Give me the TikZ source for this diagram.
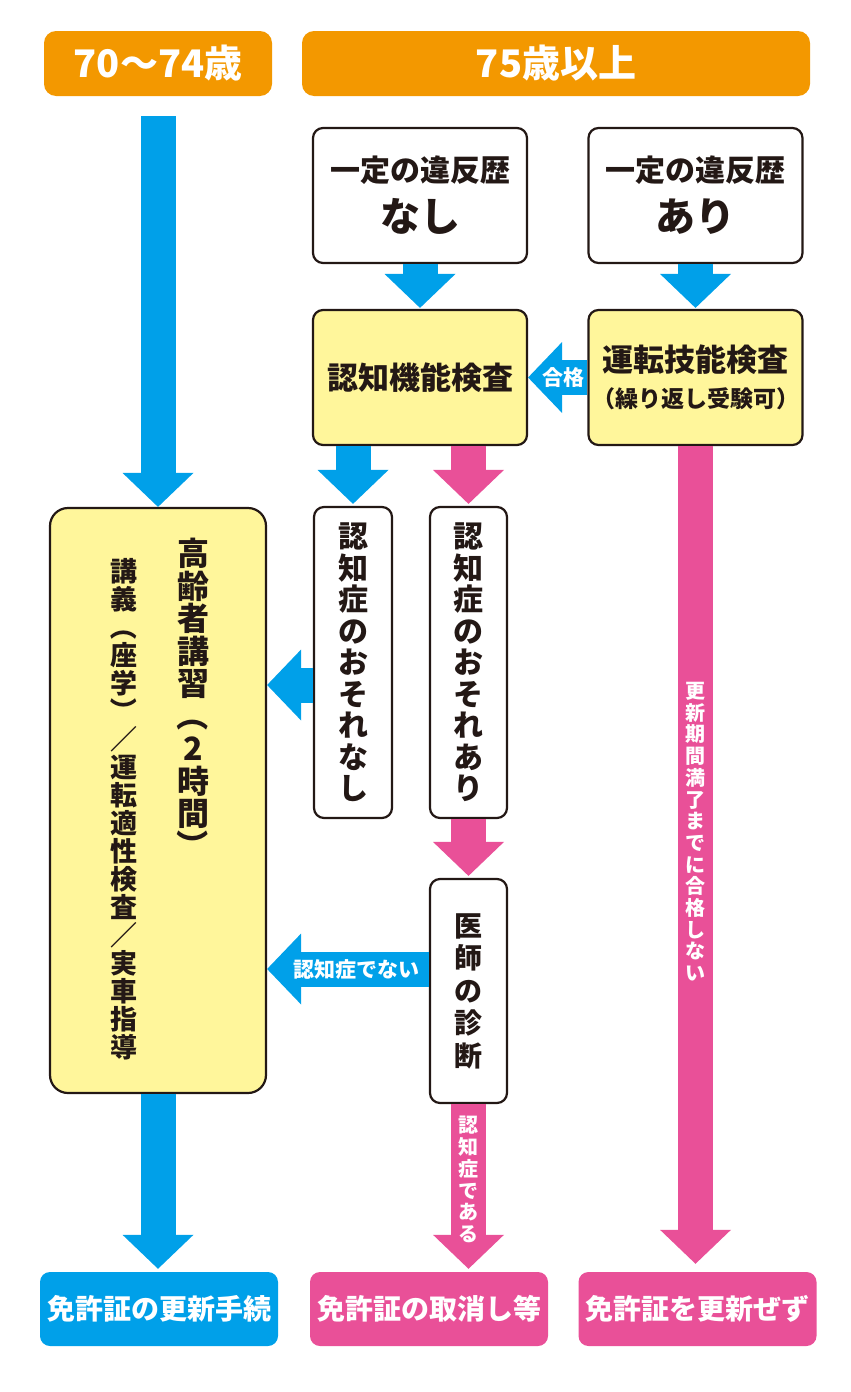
\documentclass[tikz,border=0pt]{standalone}
\usepackage{fontspec}
\setmainfont{Noto Sans CJK JP}[BoldFont={Noto Sans CJK JP Black}]
\usepackage{graphicx}
\usetikzlibrary{arrows.meta,positioning,calc}

\definecolor{kOrange}{HTML}{F39800}
\definecolor{kBlue}{HTML}{00A0E9}
\definecolor{kPink}{HTML}{E95098}
\definecolor{kYellow}{HTML}{FFF69B}
\definecolor{kInk}{HTML}{231815}

% vertical-writing brackets
\newcommand\tateL{\rotatebox[origin=c]{-90}{（}}
\newcommand\tateR{\rotatebox[origin=c]{-90}{）}}
\newcommand\fsz[2]{\bfseries\fontsize{#1}{#2}\selectfont}

\tikzset{
  hdbox/.style={fill=kOrange, rounded corners=12pt, text=white, inner sep=0pt, minimum height=65pt, font=\fsz{38}{40}},
  wbox/.style={draw=kInk, line width=2.2pt, fill=white, rounded corners=10pt, text=kInk, align=center, inner sep=0pt},
  ybox/.style={wbox, fill=kYellow},
  outbox/.style={rounded corners=10pt, text=white, inner sep=0pt, minimum width=238pt, minimum height=74pt, font=\fsz{28}{30}},
  fatarr/.style={line width=35pt, -{Triangle[width=71pt,length=34pt,line width=0pt]}},
  tate/.style={align=center, inner sep=0pt},
}

\begin{document}
\begin{tikzpicture}[x=1pt, y=-1pt]
% Page: 851 x 1392, y runs downwards
\useasboundingbox (0,0) rectangle (851,1392);

% Headers
\node[hdbox, minimum width=228pt] (hdA) at (158,63.5) {70〜74歳};
\node[hdbox, minimum width=508pt] (hdB) at (556,63.5) {75歳以上};

% Violation history
\node[wbox, minimum width=214pt, minimum height=135pt, font=\fsz{30}{50}] (vioN) at (420,195.5) {一定の違反歴\\{\fontsize{40}{50}\selectfont なし}};
\node[wbox, minimum width=214pt, minimum height=135pt, font=\fsz{30}{50}] (vioY) at (695.5,195.5) {一定の違反歴\\{\fontsize{40}{50}\selectfont あり}};

% Tests
\node[ybox, minimum width=214pt, minimum height=135pt, font=\fsz{31}{36}] (cogTest) at (420,377.5) {認知機能検査};
\node[ybox, minimum width=214pt, minimum height=135pt, font=\fsz{31}{36}] (drvTest) at (695.5,377.5) {運転技能検査\\{\fontsize{23}{36}\selectfont （繰り返し受験可）}};

% Lecture box, two vertical columns
\node[ybox, rounded corners=18pt, minimum width=216pt, minimum height=585pt] (lecture) at (158,800.5) {};
\node[tate, font=\fsz{32}{32.5}, text=kInk, anchor=north] (lecTitle) at (193,538) {高\\齢\\者\\講\\習\\ \tateL\\ 2\\時\\間\\ \tateR};
\node[tate, font=\fsz{27}{28}, text=kInk, anchor=north] (lecBody) at (124,558) {講\\義\\ \tateL\\ 座\\学\\ \tateR\\ ／\\運\\転\\適\\性\\検\\査\\ ／\\実\\車\\指\\導};

% Screening results and diagnosis
\node[wbox, minimum width=78pt, minimum height=311pt, font=\fsz{30}{31.5}] (riskNo) at (353,662.5) {認\\知\\症\\の\\お\\そ\\れ\\な\\し};
\node[wbox, minimum width=77pt, minimum height=311pt, font=\fsz{30}{31.5}] (riskYes) at (468.5,662.5) {認\\知\\症\\の\\お\\そ\\れ\\あ\\り};
\node[wbox, minimum width=77pt, minimum height=224pt, font=\fsz{28}{32.5}] (doctor) at (468.5,991) {医\\師\\の\\診\\断};

% Outcomes
\node[outbox, fill=kBlue] (outRenew) at (159,1309) {免許証の更新手続};
\node[outbox, fill=kPink] (outRevoke) at (429,1309) {免許証の取消し等};
\node[outbox, fill=kPink] (outNoRenew) at (697.5,1309) {免許証を更新ぜず};

% Arrows
\draw[fatarr, kBlue] ([yshift=-20pt]hdA.south) -- (lecture.north);
\draw[fatarr, kBlue, shorten >=1pt] (vioN.south) -- (cogTest.north);
\draw[fatarr, kBlue, shorten >=1pt] (vioY.south) -- (drvTest.north);
\draw[fatarr, kBlue] (drvTest.west) -- node[pos=0.4, font=\fsz{21}{22}, text=white]{合格} (cogTest.east);
\draw[fatarr, kBlue, shorten >=2pt] (cogTest.south -| riskNo.north) -- (riskNo.north);
\draw[fatarr, kPink, shorten >=2pt] (cogTest.south -| riskYes.north) -- (riskYes.north);
\draw[fatarr, kBlue] ([yshift=-22.5pt]riskNo.west) -- ([yshift=-22.5pt]riskNo.west -| lecture.east);
\draw[fatarr, kPink, shorten >=2pt] (riskYes.south) -- (doctor.north);
\draw[fatarr, kBlue] ([yshift=22pt]doctor.west) -- node[pos=0.45, font=\fsz{21}{22}, text=white]{認知症でない} ([yshift=22pt]doctor.west -| lecture.east);
\draw[fatarr, kBlue, shorten >=3pt] (lecture.south) -- (lecture.south |- outRenew.north);
\draw[fatarr, kPink, shorten >=3pt] (doctor.south) -- node[pos=0.45, tate, font=\fsz{20}{21.7}, text=white]{認\\知\\症\\で\\あ\\る} (doctor.south |- outRevoke.north);
\draw[fatarr, kPink, shorten >=8pt] (drvTest.south) -- node[pos=0.467, tate, font=\fsz{20}{21.7}, text=white]{更\\新\\期\\間\\満\\了\\ま\\で\\に\\合\\格\\し\\な\\い} (drvTest.south |- outNoRenew.north);
\end{tikzpicture}
\end{document}
